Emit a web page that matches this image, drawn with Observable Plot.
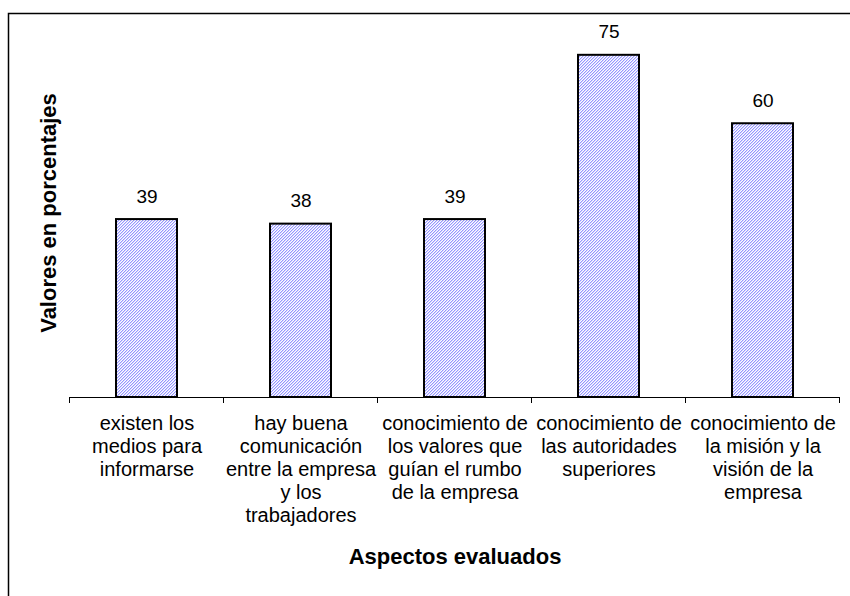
<!DOCTYPE html>
<html>
<head>
<meta charset="utf-8">
<script src="https://cdn.jsdelivr.net/npm/d3@7"></script>
<script src="https://cdn.jsdelivr.net/npm/@observablehq/plot@0.6"></script>
<style>
  html, body { margin: 0; padding: 0; background: #fff; }
  #chart svg { display: block; }
</style>
</head>
<body>
<div id="chart"></div>
<script>
const categories = [
  "existen los\nmedios para\ninformarse",
  "hay buena\ncomunicación\nentre la empresa\ny los\ntrabajadores",
  "conocimiento de\nlos valores que\nguían el rumbo\nde la empresa",
  "conocimiento de\nlas autoridades\nsuperiores",
  "conocimiento de\nla misión y la\nvisión de la\nempresa"
];
const values = [39, 38, 39, 75, 60];
const xTitle = "Aspectos evaluados";
const yTitle = "Valores en porcentajes";

const data = categories.map((c, i) => ({cat: c, value: values[i]}));
const font = "'Liberation Sans', Arial, sans-serif";

const plot = Plot.plot({
  width: 850,
  height: 596,
  marginLeft: 69,
  marginRight: 10,
  marginTop: 32,
  marginBottom: 199,
  style: {fontFamily: font, background: "#fff", color: "#000"},
  x: {domain: categories, paddingInner: 0.604, paddingOuter: 0.302, axis: null},
  y: {domain: [0, 80], axis: null},
  marks: [
    Plot.barY(data, {x: "cat", y: "value", fill: "url(#hatch)", stroke: "#000", strokeWidth: 2}),
    Plot.ruleY([0], {stroke: "#000", strokeWidth: 1}),
    Plot.text(data, {x: "cat", y: "value", text: d => String(d.value), dy: -23, fontSize: 19, fill: "#000"}),
    Plot.axisX({tickSize: 0, tickPadding: 16, fontSize: 20, lineHeight: 1.15, label: null, fill: "#000"}),
    Plot.text([xTitle], {frameAnchor: "bottom", dy: 166, fontSize: 22, fontWeight: "bold", fill: "#000"}),
    Plot.text([yTitle], {frameAnchor: "left", textAnchor: "middle", rotate: -90, dx: -21, dy: -2, fontSize: 22, fontWeight: "bold", fill: "#000"})
  ]
});

const svg = d3.select(plot);
const defs = svg.insert("defs", ":first-child");
const pat = defs.append("pattern").attr("id", "hatch").attr("patternUnits", "userSpaceOnUse")
  .attr("width", 3).attr("height", 3).attr("shape-rendering", "crispEdges");
pat.append("rect").attr("width", 3).attr("height", 3).attr("fill", "#ffffff");
for (let i = 0; i < 3; i++) {
  pat.append("rect").attr("x", i).attr("y", 2 - i).attr("width", 1).attr("height", 1).attr("fill", "#9595ff");
  pat.append("rect").attr("x", i).attr("y", (3 - i) % 3).attr("width", 1).attr("height", 1).attr("fill", "#d6d6ff");
}

// outer frame
svg.insert("rect", "defs + *").attr("x", 8.5).attr("y", 13.5).attr("width", 900).attr("height", 700)
  .attr("fill", "none").attr("stroke", "#000").attr("stroke-width", 1.5);

// category boundary ticks
const xs = plot.scale("x");
const ys = plot.scale("y");
const y0 = ys.apply(0);
const gap = (xs.step - xs.bandwidth) / 2;
const bounds = categories.map(c => xs.apply(c) - gap);
bounds.push(xs.apply(categories[categories.length - 1]) + xs.bandwidth + gap);
svg.append("g").selectAll("line").data(bounds).join("line")
  .attr("x1", d => d).attr("x2", d => d).attr("y1", y0).attr("y2", y0 + 6)
  .attr("stroke", "#000").attr("stroke-width", 1);

document.getElementById("chart").appendChild(plot);
</script>
</body>
</html>
